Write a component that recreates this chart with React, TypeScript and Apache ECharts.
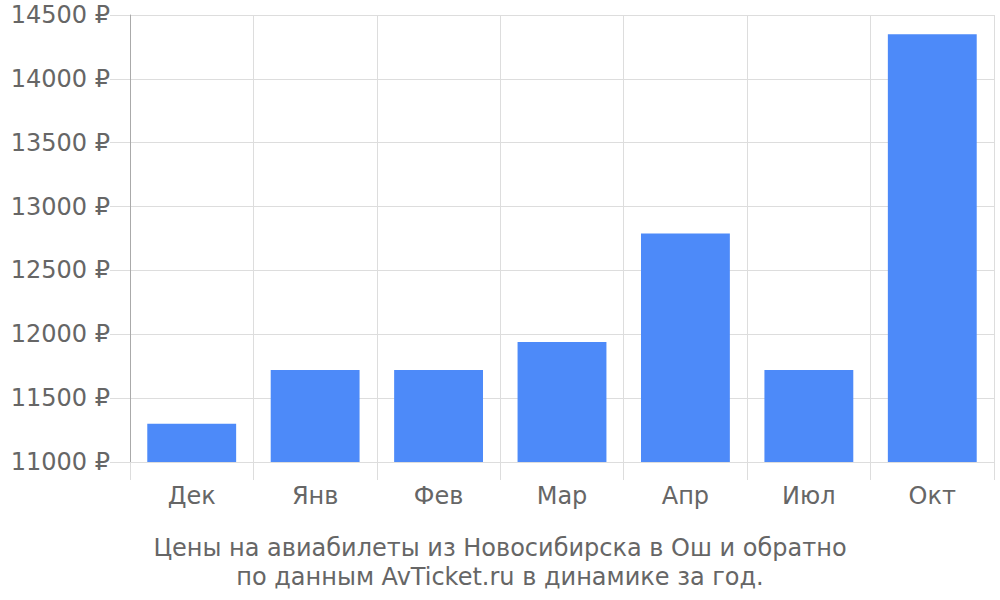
import { useEffect, useRef } from 'react';
import * as echarts from 'echarts';

const months = ['Дек', 'Янв', 'Фев', 'Мар', 'Апр', 'Июл', 'Окт'];
const prices = [11300, 11720, 11720, 11940, 12790, 11720, 14350];
const titleLines = [
  'Цены на авиабилеты из Новосибирска в Ош и обратно',
  'по данным AvTicket.ru в динамике за год.',
];

const FONT = 'DejaVu Sans';
const TEXT = '#666666';
const GRID = '#dddddd';

export default function App() {
  const containerRef = useRef<HTMLDivElement>(null);

  useEffect(() => {
    if (!containerRef.current) return;
    const chart = echarts.init(containerRef.current, null, { renderer: 'svg' });

    const option: echarts.EChartsOption = {
      backgroundColor: '#ffffff',
      animation: false,
      textStyle: { fontFamily: FONT },
      title: {
        text: titleLines.join('\n'),
        left: 'center',
        top: 528,
        textStyle: { fontFamily: FONT, fontSize: 24, fontWeight: 'normal', color: TEXT, lineHeight: 29 },
      },
      grid: { left: 130, right: 6, top: 15, bottom: 138, containLabel: false },
      xAxis: {
        type: 'category',
        data: months,
        axisLine: { show: true, lineStyle: { color: GRID } },
        axisTick: { show: true, length: 18, lineStyle: { color: GRID } },
        splitLine: { show: true, lineStyle: { color: GRID } },
        axisLabel: { color: TEXT, fontSize: 24, margin: 22, fontFamily: FONT },
      },
      yAxis: {
        type: 'value',
        min: 11000,
        max: 14500,
        interval: 500,
        axisLine: { show: true, lineStyle: { color: '#aaaaaa' } },
        axisTick: { show: true, length: 20, lineStyle: { color: GRID } },
        splitLine: { show: true, lineStyle: { color: GRID } },
        axisLabel: {
          color: TEXT,
          fontSize: 24,
          margin: 20,
          fontFamily: FONT,
          formatter: (v: number) => `${v} ₽`,
        },
      },
      series: [
        {
          type: 'bar',
          data: prices,
          barWidth: '72%',
          itemStyle: { color: '#4d8af9' },
        },
      ],
    };

    chart.setOption(option);
    return () => chart.dispose();
  }, []);

  return (
    <div
      ref={containerRef}
      style={{ position: 'absolute', left: 0, top: 0, width: 1000, height: 600 }}
    />
  );
}
